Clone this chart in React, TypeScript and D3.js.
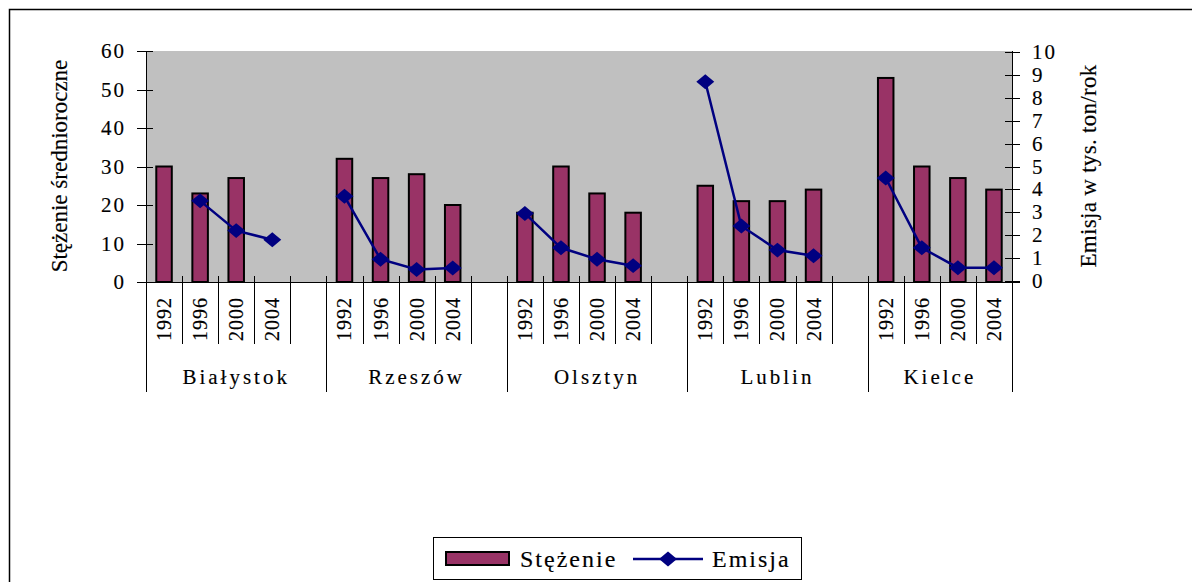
import React from 'react';
import * as d3 from 'd3';

const cities = ['Białystok', 'Rzeszów', 'Olsztyn', 'Lublin', 'Kielce'];
const years = ['1992', '1996', '2000', '2004'];
const stezenie: (number | null)[][] = [
  [30, 23, 27, null],
  [32, 27, 28, 20],
  [18, 30, 23, 18],
  [25, 21, 21, 24],
  [53, 30, 27, 24],
];
const emisja: (number | null)[][] = [
  [null, 3.5, 2.2, 1.8],
  [3.7, 0.95, 0.5, 0.57],
  [2.95, 1.45, 0.95, 0.67],
  [8.7, 2.4, 1.35, 1.1],
  [4.5, 1.45, 0.58, 0.58],
];
const leftTicks = [0, 10, 20, 30, 40, 50, 60];
const rightTicks = [0, 1, 2, 3, 4, 5, 6, 7, 8, 9, 10];

const W = 1192;
const H = 582;
const plot = { left: 146, right: 1012, top: 51, bottom: 282 };
const serif = { fontFamily: "'Liberation Serif'", stroke: '#000', strokeWidth: 0.15 };

// slots: 4 years per city plus an empty slot between cities
const slots: string[] = [];
cities.forEach((c, ci) => {
  years.forEach(y => slots.push(`${c}|${y}`));
  if (ci < cities.length - 1) slots.push(`${c}|gap`);
});

const x = d3.scaleBand().domain(slots).range([plot.left, plot.right]).padding(0);
const yL = d3.scaleLinear().domain([0, 60]).range([plot.bottom, plot.top]);
const yR = d3.scaleLinear().domain([0, 10]).range([plot.bottom - 1, plot.top + 1]);
const bw = x.bandwidth();
const barW = bw * 0.43;
// wide, flat diamond marker like the Excel one
const diamond = d3.symbol().type(d3.symbolDiamond).size(55)() || '';
const dScale = 'scale(2.25,1.08)';

type Pt = { key: string; v: number | null };
const line = d3.line<Pt>()
  .defined(d => d.v != null)
  .x(d => (x(d.key) || 0) + bw / 2)
  .y(d => yR(d.v as number));

export default function App() {
  const bars: { key: string; v: number }[] = [];
  cities.forEach((c, ci) => years.forEach((yr, yi) => {
    const v = stezenie[ci][yi];
    if (v != null) bars.push({ key: `${c}|${yr}`, v });
  }));
  const series: Pt[][] = cities.map((c, ci) =>
    years.map((yr, yi) => ({ key: `${c}|${yr}`, v: emisja[ci][yi] })));

  return (
    <svg width={W} height={H} style={{ position: 'absolute', left: 0, top: 0, background: '#fff' }}>
      <rect x={9.5} y={9.5} width={W + 20} height={H + 20} fill="none" stroke="#000" strokeWidth={1.5} />
      <rect x={plot.left} y={plot.top} width={plot.right - plot.left} height={plot.bottom - plot.top} fill="#c0c0c0" />

      {bars.map(d => (
        <rect key={d.key}
          x={(x(d.key) || 0) + (bw - barW) / 2}
          y={yL(d.v)}
          width={barW}
          height={plot.bottom - yL(d.v)}
          fill="#993366" stroke="#000" strokeWidth={2} />
      ))}

      {series.map((pts, i) => (
        <g key={i}>
          <path d={line(pts) || ''} fill="none" stroke="#000080" strokeWidth={2.5} />
          {pts.filter(p => p.v != null).map(p => (
            <path key={p.key} d={diamond} fill="#000080"
              transform={`translate(${(x(p.key) || 0) + bw / 2},${yR(p.v as number)}) ${dScale}`} />
          ))}
        </g>
      ))}

      <g stroke="#000" strokeWidth={1}>
        <line x1={plot.left + 0.5} x2={plot.left + 0.5} y1={plot.top} y2={392} />
        <line x1={plot.right + 0.5} x2={plot.right + 0.5} y1={plot.top} y2={392} />
        {leftTicks.map(t => (
          <line key={t} x1={plot.left - 9} x2={plot.left + 7}
            y1={Math.round(yL(t)) + 0.5} y2={Math.round(yL(t)) + 0.5} />
        ))}
        {rightTicks.map(t => (
          <line key={t} x1={plot.right - 7} x2={plot.right + 8}
            y1={Math.round(yR(t)) + 0.5} y2={Math.round(yR(t)) + 0.5} />
        ))}
        <line x1={plot.left - 9} x2={plot.right + 8} y1={plot.bottom + 0.5} y2={plot.bottom + 0.5} />
        {slots.map((s, i) => {
          if (i === 0) return null;
          const xs = Math.round(x(s) || 0) + 0.5;
          const isGroup = slots[i - 1].endsWith('|gap');
          return <line key={s} x1={xs} x2={xs} y1={plot.bottom - 6} y2={isGroup ? 392 : 344} />;
        })}
      </g>

      <g style={serif} fontSize={21} letterSpacing={2}>
        {leftTicks.map(t => (
          <text key={t} x={126} y={yL(t) + 7} textAnchor="end">{t}</text>
        ))}
        {rightTicks.map(t => (
          <text key={t} x={1032} y={yR(t) + 7}>{t}</text>
        ))}
      </g>

      <g style={serif} fontSize={20} letterSpacing={1}>
        {cities.map(c => years.map(yr => {
          const cx = (x(`${c}|${yr}`) || 0) + bw / 2;
          return (
            <text key={`${c}${yr}`} transform={`translate(${cx + 7},319) rotate(-90)`} textAnchor="middle">{yr}</text>
          );
        }))}
      </g>

      <g style={serif} fontSize={21} letterSpacing={3}>
        {cities.map((c, ci) => {
          const x0 = x(`${c}|1992`) || 0;
          const x1 = (x(`${c}|2004`) || 0) + bw;
          const xEnd = ci === cities.length - 1 ? x1 : x1 + bw;
          return <text key={c} x={(x0 + xEnd) / 2} y={384} textAnchor="middle">{c}</text>;
        })}
      </g>

      <text style={serif} fontSize={23} transform="translate(67,166) rotate(-90)" textAnchor="middle">
        Stężenie średnioroczne
      </text>
      <text style={serif} fontSize={23} letterSpacing={0.3} transform="translate(1096,166) rotate(-90)" textAnchor="middle">
        Emisja w tys. ton/rok
      </text>

      <g>
        <rect x={433.5} y={537.5} width={368} height={42} fill="#fff" stroke="#000" strokeWidth={1} />
        <rect x={446} y={552} width={63} height={13} fill="#993366" stroke="#000" strokeWidth={2} />
        <text x={520} y={567} style={serif} fontSize={24} letterSpacing={2}>Stężenie</text>
        <line x1={633} x2={703} y1={559} y2={559} stroke="#000080" strokeWidth={2.5} />
        <path d={diamond} transform={`translate(668,559) ${dScale}`} fill="#000080" />
        <text x={712} y={567} style={serif} fontSize={24} letterSpacing={2}>Emisja</text>
      </g>
    </svg>
  );
}
